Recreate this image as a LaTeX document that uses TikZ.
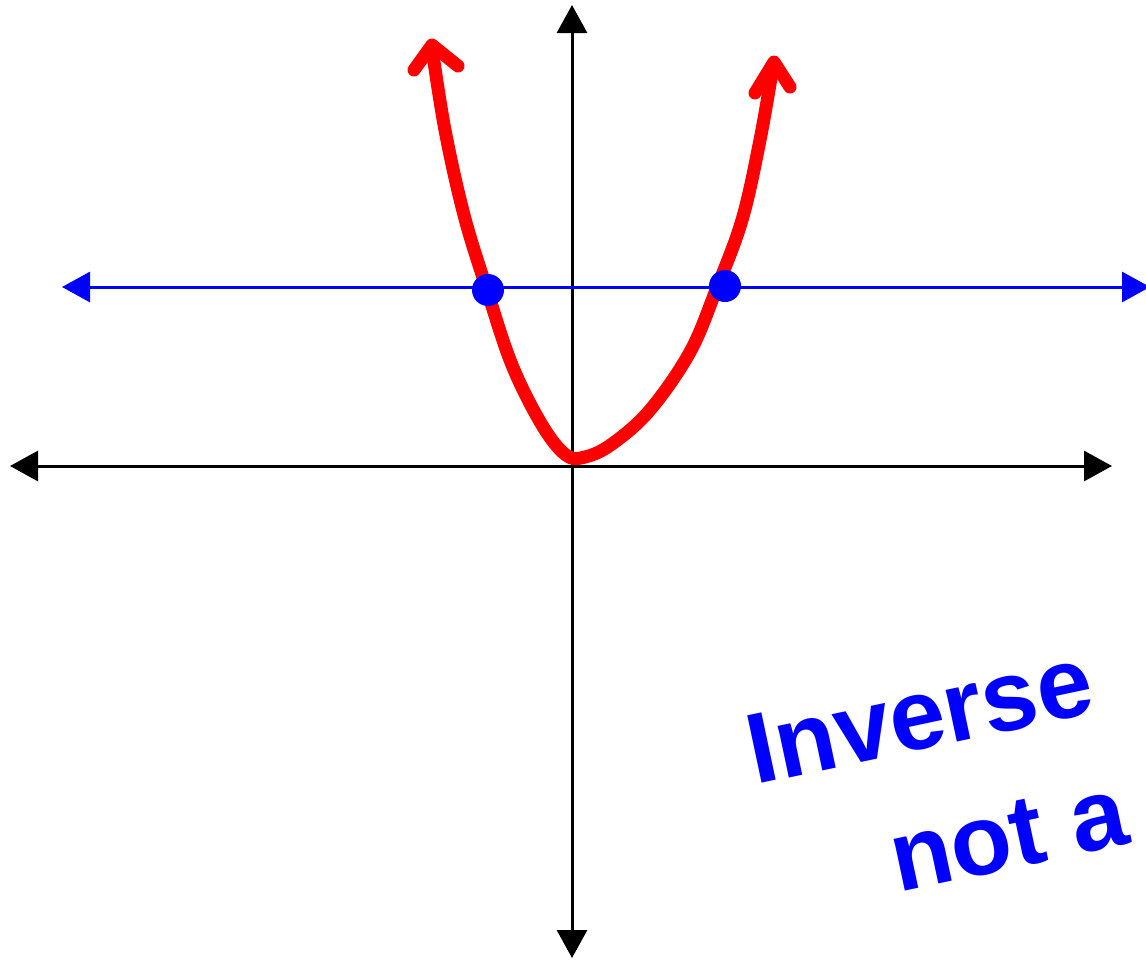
\documentclass[tikz,border=0pt]{standalone}
\usepackage{fontspec}
\setsansfont{Liberation Sans}
\usetikzlibrary{arrows.meta}

\tikzset{
  axis/.style={line width=3pt, -{Triangle[length=28pt,width=30pt]}},
  hline/.style={blue, line width=3pt, {Triangle[length=28pt,width=30pt]}-{Triangle[length=28pt,width=30pt]}},
  curve/.style={red, line width=13pt, line cap=round, line join=round},
  dot/.style={circle, fill=blue, inner sep=0pt, minimum size=32pt},
  scrawl/.style={blue, font=\sffamily\bfseries\fontsize{100}{100}\selectfont, rotate=12, anchor=base west, inner sep=0pt}
}

\begin{document}
\begin{tikzpicture}[x=1pt, y=-1pt]

\clip (0,0) rectangle (1146,962);
\fill[white] (0,0) rectangle (1146,962);

% axes
\coordinate (o) at (572,466);
\coordinate (left) at (10,466);
\coordinate (right) at (1112,466);
\coordinate (top) at (572,5);
\coordinate (bottom) at (572,958);
\draw[axis] (o) -- (left);
\draw[axis] (o) -- (right);
\draw[axis] (o) -- (top);
\draw[axis] (o) -- (bottom);

% horizontal line
\coordinate (hl) at (62,287);
\coordinate (hr) at (1150,287);
\draw[hline] (hl) -- (hr);

% parabola
\draw[curve] plot[smooth, tension=0.6] coordinates {
  (432,48) (445,130) (464,215) (487,290) (512,365) (542,425)
  (566,455) (585,457) (612,444) (650,410) (690,352) (716,290)
  (742,220) (760,140) (773,66)};
\draw[curve] (414,70) -- (432,45) -- (458,66);
\draw[curve] (755,93) -- (774,62) -- (790,87);

% intersections
\node[dot] (p) at (488,290) {};
\node[dot] (q) at (725,286) {};

% note
\node[scrawl] (t1) at (755,785) {Inverse};
\node[scrawl] (t2) at (898,893) {not a};

\end{tikzpicture}
\end{document}
